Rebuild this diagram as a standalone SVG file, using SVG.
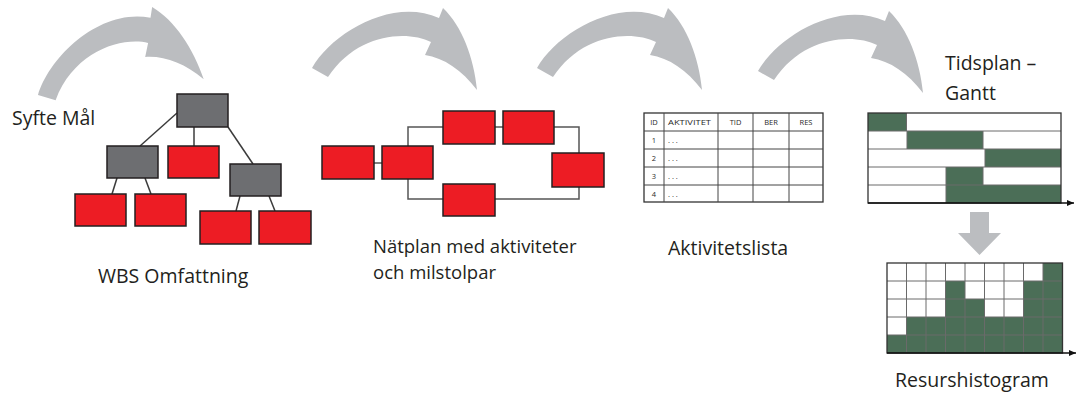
<svg xmlns="http://www.w3.org/2000/svg" width="1077" height="394" viewBox="0 0 1077 394">
  <style>
    .lbl { font-family: "Open Sans", "Noto Sans", "DejaVu Sans", sans-serif; font-size: 19.5px; fill: #231f20; }
    .lbl2 { font-size: 18.5px; }
    .tbl { font-family: "Open Sans", "Noto Sans", "DejaVu Sans", sans-serif; font-size: 7.5px; fill: #2a2a2a; }
    .gray { fill: #6d6e71; stroke: #231f20; stroke-width: 1.5; }
    .red { fill: #ed1c24; stroke: #231f20; stroke-width: 1.5; }
    .conn { fill: none; stroke: #3c3c3c; stroke-width: 1.5; }
    .net { fill: none; stroke: #555; stroke-width: 1.5; }
    .bigarrow { fill: #bbbdc0; }
    .grid { stroke: #6a6a6a; stroke-width: 1; fill: none; }
    .tline { stroke: #444; stroke-width: 1; fill: none; }
    .bar { fill: #4b6e57; }
    .axis { stroke: #111; stroke-width: 1.5; fill: none; }
  </style>
  <defs>
    <path id="curvedArrow" d="M0,0 C20,-35 80,-71 127,-50 L131,-60 C150,-42 162,-10 165,22 C150,2 132,-10 113,-13 L119,-26 C95,-38 45,-35 16,9 Z"/>
    <marker id="axHead" markerWidth="8" markerHeight="8" refX="7" refY="4" orient="auto" markerUnits="userSpaceOnUse">
      <path d="M0,1 L7,4 L0,7 Z" fill="#111"/>
    </marker>
  </defs>

  <rect width="1077" height="394" fill="#ffffff"/>

  <!-- big curved arrows -->
  <g id="flow-arrows" class="bigarrow">
    <use href="#curvedArrow" transform="translate(38,95) rotate(-13)"/>
    <use href="#curvedArrow" transform="translate(312,68)"/>
    <use href="#curvedArrow" transform="translate(537,68)"/>
    <use href="#curvedArrow" transform="translate(758,71)"/>
    <path d="M970,212 H989 V233 H1001 L979.5,255 L958,233 H970 Z"/>
  </g>

  <!-- connectors -->
  <g id="connectors">
    <g id="wbs-connectors" class="conn">
      <line x1="177" y1="113" x2="140" y2="146"/>
      <line x1="194" y1="127" x2="194" y2="146"/>
      <line x1="228" y1="127" x2="253" y2="164"/>
      <line x1="117" y1="178" x2="112" y2="194"/>
      <line x1="145" y1="178" x2="151" y2="194"/>
      <line x1="240" y1="196" x2="236" y2="211"/>
      <line x1="269" y1="196" x2="275" y2="211"/>
    </g>
    <g id="net-connectors" class="net">
      <line x1="374" y1="163" x2="382" y2="163"/>
      <polyline points="408,146 408,127 443,127"/>
      <line x1="495" y1="127" x2="503" y2="127"/>
      <polyline points="554,127 579,127 579,153"/>
      <polyline points="408,179 408,199 443,199"/>
      <polyline points="495,199 579,199 579,187"/>
    </g>
  </g>

  <!-- WBS tree -->
  <g id="wbs-root"><rect class="gray" x="177" y="94" width="51" height="33"/></g>
  <g id="wbs-left"><rect class="gray" x="107" y="146" width="51" height="32"/></g>
  <g id="wbs-mid"><rect class="red" x="168" y="146" width="51" height="32"/></g>
  <g id="wbs-right"><rect class="gray" x="230" y="164" width="51" height="32"/></g>
  <g id="wbs-ll"><rect class="red" x="75" y="194" width="51" height="32"/></g>
  <g id="wbs-lr"><rect class="red" x="135" y="194" width="51" height="32"/></g>
  <g id="wbs-rl"><rect class="red" x="200" y="211" width="51" height="33"/></g>
  <g id="wbs-rr"><rect class="red" x="259" y="211" width="52" height="33"/></g>

  <!-- network plan -->
  <g id="net-a"><rect class="red" x="322" y="146" width="52" height="33"/></g>
  <g id="net-b"><rect class="red" x="382" y="146" width="51" height="33"/></g>
  <g id="net-c"><rect class="red" x="443" y="111" width="52" height="33"/></g>
  <g id="net-d"><rect class="red" x="503" y="111" width="51" height="33"/></g>
  <g id="net-e"><rect class="red" x="552" y="153" width="52" height="34"/></g>
  <g id="net-f"><rect class="red" x="443" y="184" width="52" height="32"/></g>

  <!-- activity table -->
  <g id="activity-table">
    <rect x="644" y="113" width="179" height="89" fill="#fff" stroke="#333" stroke-width="1.3"/>
    <g class="tline">
      <line x1="664" y1="113" x2="664" y2="202"/>
      <line x1="718" y1="113" x2="718" y2="202"/>
      <line x1="753" y1="113" x2="753" y2="202"/>
      <line x1="789" y1="113" x2="789" y2="202"/>
      <line x1="644" y1="131" x2="823" y2="131"/>
      <line x1="644" y1="149" x2="823" y2="149"/>
      <line x1="644" y1="167" x2="823" y2="167"/>
      <line x1="644" y1="185" x2="823" y2="185"/>
    </g>
    <text class="tbl" x="654" y="125" text-anchor="middle">ID</text>
    <text class="tbl" x="668" y="125" textLength="43" lengthAdjust="spacingAndGlyphs">AKTIVITET</text>
    <text class="tbl" x="735.5" y="125" text-anchor="middle">TID</text>
    <text class="tbl" x="771" y="125" text-anchor="middle">BER</text>
    <text class="tbl" x="806" y="125" text-anchor="middle">RES</text>
    <text class="tbl" x="654" y="143" text-anchor="middle">1</text>
    <text class="tbl" x="668" y="143">. . .</text>
    <text class="tbl" x="654" y="161" text-anchor="middle">2</text>
    <text class="tbl" x="668" y="161">. . .</text>
    <text class="tbl" x="654" y="179" text-anchor="middle">3</text>
    <text class="tbl" x="668" y="179">. . .</text>
    <text class="tbl" x="654" y="197" text-anchor="middle">4</text>
    <text class="tbl" x="668" y="197">. . .</text>
  </g>

  <!-- Gantt chart -->
  <g id="gantt">
    <rect x="868" y="113" width="193" height="90" fill="#fff"/>
    <rect class="bar" x="868" y="113" width="38" height="18"/>
    <rect class="bar" x="907" y="131" width="76" height="18"/>
    <rect class="bar" x="985" y="149" width="76" height="18"/>
    <rect class="bar" x="946" y="167" width="37" height="18"/>
    <rect class="bar" x="946" y="185" width="115" height="18"/>
    <g class="grid">
      <line x1="868" y1="131" x2="1061" y2="131"/>
      <line x1="868" y1="149" x2="1061" y2="149"/>
      <line x1="868" y1="167" x2="1061" y2="167"/>
      <line x1="868" y1="185" x2="1061" y2="185"/>
      <line x1="906.5" y1="113" x2="906.5" y2="131"/>
      <line x1="907" y1="131" x2="907" y2="149"/>
      <line x1="983" y1="131" x2="983" y2="149"/>
      <line x1="985" y1="149" x2="985" y2="167"/>
      <line x1="946" y1="167" x2="946" y2="203"/>
      <line x1="983" y1="167" x2="983" y2="185"/>
    </g>
    <rect x="868" y="113" width="193" height="90" fill="none" stroke="#333" stroke-width="1.3"/>
    <line class="axis" x1="868" y1="203" x2="1074" y2="203" marker-end="url(#axHead)"/>
  </g>

  <!-- resource histogram -->
  <g id="histogram">
    <rect x="887" y="263" width="175.5" height="90" fill="#fff"/>
    <g class="bar">
      <rect x="1043" y="263" width="19.5" height="18"/>
      <rect x="945.5" y="281" width="19.5" height="18"/>
      <rect x="1023.5" y="281" width="39" height="18"/>
      <rect x="945.5" y="299" width="39" height="18"/>
      <rect x="1023.5" y="299" width="39" height="18"/>
      <rect x="906.5" y="317" width="156" height="18"/>
      <rect x="887" y="335" width="175.5" height="18"/>
    </g>
    <g class="grid">
      <line x1="906.5" y1="263" x2="906.5" y2="353"/>
      <line x1="926" y1="263" x2="926" y2="353"/>
      <line x1="945.5" y1="263" x2="945.5" y2="353"/>
      <line x1="965" y1="263" x2="965" y2="353"/>
      <line x1="984.5" y1="263" x2="984.5" y2="353"/>
      <line x1="1004" y1="263" x2="1004" y2="353"/>
      <line x1="1023.5" y1="263" x2="1023.5" y2="353"/>
      <line x1="1043" y1="263" x2="1043" y2="353"/>
      <line x1="887" y1="281" x2="1062.5" y2="281"/>
      <line x1="887" y1="299" x2="1062.5" y2="299"/>
      <line x1="887" y1="317" x2="1062.5" y2="317"/>
      <line x1="887" y1="335" x2="1062.5" y2="335"/>
    </g>
    <rect x="887" y="263" width="175.5" height="90" fill="none" stroke="#333" stroke-width="1.3"/>
    <line class="axis" x1="887" y1="353" x2="1076" y2="353" marker-end="url(#axHead)"/>
  </g>

  <!-- labels -->
  <g id="labels">
    <text class="lbl" x="12" y="125">Syfte Mål</text>
    <text class="lbl" x="98" y="283">WBS Omfattning</text>
    <text class="lbl lbl2" x="373" y="253">Nätplan med aktiviteter<tspan x="373" dy="25.5">och milstolpar</tspan></text>
    <text class="lbl" x="668" y="255">Aktivitetslista</text>
    <text class="lbl" x="945" y="70">Tidsplan –<tspan x="945" dy="30">Gantt</tspan></text>
    <text class="lbl" x="895" y="387">Resurshistogram</text>
  </g>
</svg>
